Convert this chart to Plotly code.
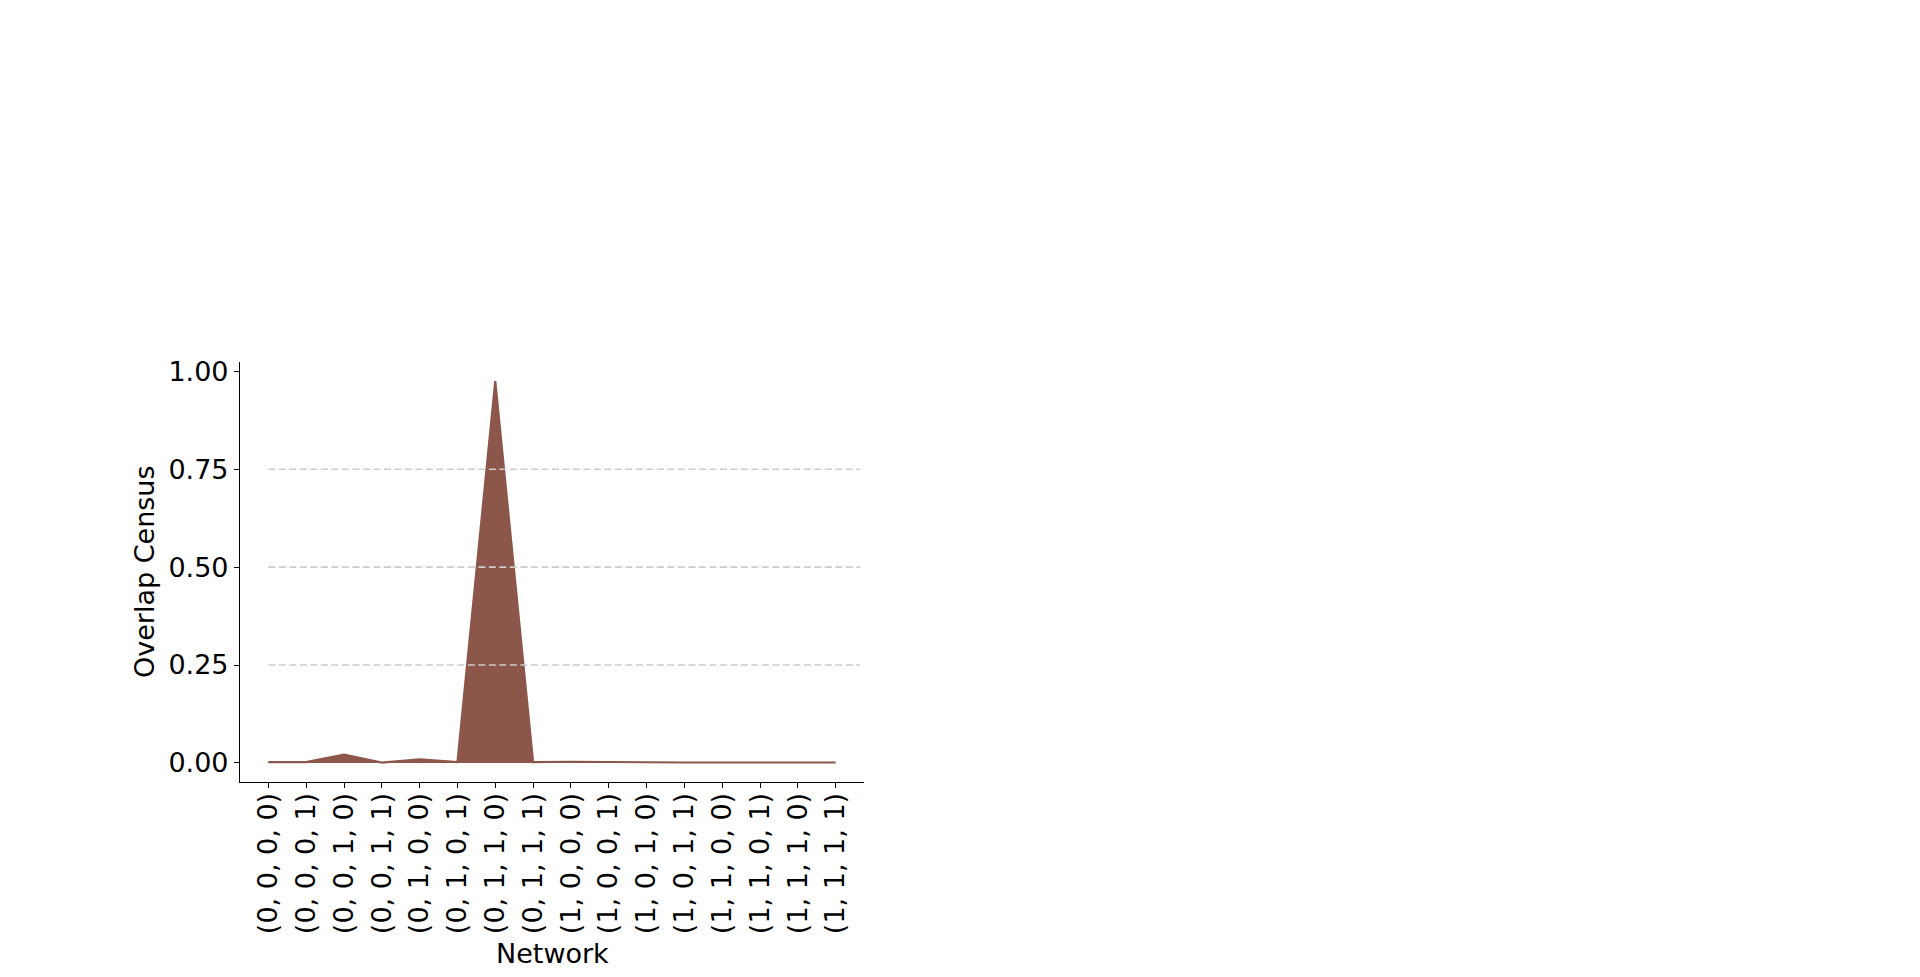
import plotly.graph_objects as go

networks = ["(0, 0, 0, 0)", "(0, 0, 0, 1)", "(0, 0, 1, 0)", "(0, 0, 1, 1)",
            "(0, 1, 0, 0)", "(0, 1, 0, 1)", "(0, 1, 1, 0)", "(0, 1, 1, 1)",
            "(1, 0, 0, 0)", "(1, 0, 0, 1)", "(1, 0, 1, 0)", "(1, 0, 1, 1)",
            "(1, 1, 0, 0)", "(1, 1, 0, 1)", "(1, 1, 1, 0)", "(1, 1, 1, 1)"]
overlap = [0.002, 0.002, 0.021, 0.001, 0.009, 0.002, 0.975, 0.002,
           0.003, 0.002, 0.001, 0.001, 0.001, 0.001, 0.002, 0.001]
y_ticks = [0.0, 0.25, 0.5, 0.75, 1.0]
y_tick_text = ["0.00", "0.25", "0.50", "0.75", "1.00"]
grid_levels = [0.25, 0.5, 0.75]
x_title = "Network"
y_title = "Overlap Census"

BROWN = "#8c564b"
FONT = "DejaVu Sans"
FS = 27

xs = list(range(len(networks)))
fig = go.Figure()
fig.add_trace(go.Scatter(
    x=xs, y=overlap, mode="lines", fill="tozeroy",
    fillcolor=BROWN, line=dict(color=BROWN, width=2.2),
    hoverinfo="skip", showlegend=False))

for g in grid_levels:
    fig.add_shape(type="line", xref="x", yref="y", x0=0, x1=15.65, y0=g, y1=g,
                  line=dict(color="#cccccc", width=1.6, dash="7px,3.5px"),
                  layer="above")

fig.add_annotation(text=x_title, xref="paper", yref="paper", x=0.5, y=0,
                   xanchor="center", yanchor="middle", yshift=-171,
                   showarrow=False, font=dict(family=FONT, size=FS, color="black"))
fig.add_annotation(text=y_title, xref="paper", yref="paper", x=0, y=0.5,
                   xanchor="center", yanchor="middle", xshift=-96, textangle=-90,
                   showarrow=False, font=dict(family=FONT, size=FS, color="black"))

ymax = max(overlap)
fig.update_layout(
    width=1920, height=977,
    margin=dict(l=232, r=1064, t=354, b=203, autoexpand=False),
    paper_bgcolor="white", plot_bgcolor="white",
    font=dict(family=FONT, size=FS, color="black"),
    xaxis=dict(
        range=[-0.75, 15.75], tickmode="array", tickvals=xs, ticktext=networks,
        tickangle=-90, showgrid=False, zeroline=False,
        showline=True, linecolor="black", linewidth=1.1,
        ticks="outside", ticklen=5, tickwidth=1.1, tickcolor="black",
        tickfont=dict(family=FONT, size=FS), ticklabelstandoff=-6,
        automargin=False, mirror=False,
    ),
    yaxis=dict(
        range=[-0.05 * ymax, 1.05 * ymax], tickmode="array",
        tickvals=y_ticks, ticktext=y_tick_text,
        showgrid=False, zeroline=False,
        showline=True, linecolor="black", linewidth=1.1,
        ticks="outside", ticklen=5, tickwidth=1.1, tickcolor="black",
        tickfont=dict(family=FONT, size=FS),
        automargin=False, mirror=False,
    ),
)

fig.write_html("out.html")
